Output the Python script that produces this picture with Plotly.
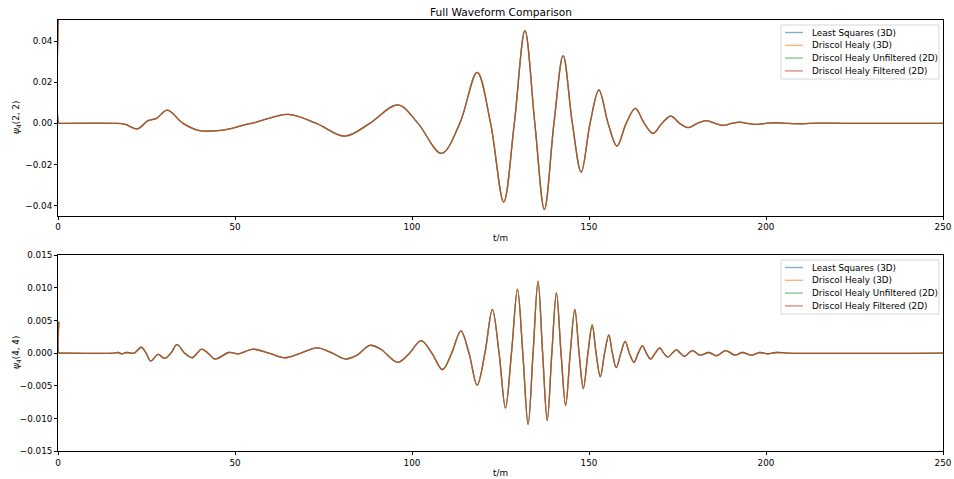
import plotly.graph_objects as go

# ---- data: psi4 (2,2) mode ----
t_22 = [0.25, 0.25, 0.6, 16, 19, 22.4, 25.4, 27.8, 30.9, 35.3, 40.0, 46.6, 53.2, 55.5,
        65.0, 73.0, 81.0, 88.1, 96.0, 101.7, 108.3, 113.5, 118.4, 122.2, 125.9,
        128.9, 131.9, 134.7, 137.4, 140.1, 142.7, 145.3, 147.8, 150.3, 152.8,
        155.4, 157.9, 160.5, 163.1, 165.6, 168.1, 170.6, 173.1, 175.6, 178.0,
        180.6, 183.2, 185.6, 187.9, 190.3, 192.6, 194.7, 196.8, 199.9, 202.9,
        206, 210, 215, 222, 250]
psi_22 = [0.06, 0.0, 0.0, 0.0, -0.0005, -0.0027, 0.0013, 0.0024, 0.0064, 0.0,
          -0.0035, -0.0033, -0.0005, 0.0003, 0.0044, 0.0, -0.0062, 0.0, 0.0090,
          0.0, -0.0146, 0.0, 0.0248, 0.0, -0.0382, 0.0, 0.0450, 0.0, -0.0418,
          0.0, 0.0329, 0.0, -0.0237, 0.0, 0.0162, 0.0, -0.0110, 0.0, 0.0073,
          0.0, -0.0049, 0.0, 0.0035, 0.0, -0.0021, 0.0, 0.0013, 0.0, -0.0010,
          0.0, 0.0006, 0.0, -0.0005, 0.0, 0.0003, 0.0, -0.0002, 0.0001, 0.0, 0.0]

# ---- data: psi4 (4,4) mode ----
t_44 = [0.25, 0.25, 0.6, 16, 17, 18, 19.5, 21.5, 23.5, 24.9, 26.2, 28.3, 30.1, 31.9,
        33.6, 35.8, 37.9, 39.3, 40.6, 42.4, 44.3, 48.3, 51.0, 55.1, 59.6, 64.2,
        68.6, 73.2, 77.5, 81.2, 84.5, 88.1, 91.2, 96.0, 99.3, 102.6, 105.6,
        108.6, 111.2, 113.8, 116.1, 118.4, 120.6, 122.7, 124.6, 126.4, 128.1,
        129.8, 131.3, 132.8, 134.2, 135.6, 136.9, 138.2, 139.5, 140.8, 142.1,
        143.4, 144.7, 146.0, 147.2, 148.4, 149.7, 150.9, 152.0, 153.2, 154.4,
        155.6, 156.6, 157.7, 159.0, 160.2, 161.4, 162.7, 163.9, 165.1, 166.2,
        167.4, 168.7, 170.0, 171.1, 172.3, 173.5, 174.7, 175.8, 177.0, 178.1,
        179.2, 181.3, 183.9, 186.0, 188.6, 191.2, 193.3, 195.9, 198.2, 200.5,
        202.9, 206, 250]
psi_44 = [0.0048, 0.0, 0.0, 0.0, 0.0001, -0.0001, 0.0001, 0.0, 0.0009, 0.0,
          -0.0012, -0.0002, -0.0008, 0.0, 0.0013, 0.0, -0.0007, 0.0, 0.0006,
          0.0, -0.0009, 0.0001, -0.0001, 0.0006, 0.0, -0.0007, 0.0, 0.0008,
          0.0, -0.0009, -0.0003, 0.0012, 0.0006, -0.0014, 0.0, 0.0019, 0.0,
          -0.0025, 0.0, 0.0034, 0.0, -0.0049, 0.0, 0.0067, 0.0, -0.0084, 0.0,
          0.0098, 0.0, -0.0109, 0.0, 0.0110, 0.0, -0.0103, 0.0, 0.0092, 0.0,
          -0.0080, 0.0, 0.0067, 0.0, -0.0054, 0.0, 0.0043, 0.0, -0.0036, 0.0,
          0.0028, 0.0, -0.0022, 0.0, 0.0018, 0.0, -0.0014, 0.0, 0.0011, 0.0,
          -0.0009, 0.0, 0.0008, 0.0, -0.0006, 0.0, 0.0005, 0.0, -0.0005, 0.0,
          0.0004, -0.0003, 0.0001, -0.0004, 0.0004, -0.0003, 0.0001, -0.0003,
          0.0001, -0.0001, 0.0001, 0.0, 0.0]

methods = ["Least Squares (3D)", "Driscol Healy (3D)",
           "Driscol Healy Unfiltered (2D)", "Driscol Healy Filtered (2D)"]
colors = ["rgba(31,119,180,0.6)", "rgba(255,127,14,0.6)",
          "rgba(44,160,44,0.6)", "rgba(214,39,40,0.6)"]

x_ticks = [0, 50, 100, 150, 200, 250]
y_ticks_22 = [-0.04, -0.02, 0.0, 0.02, 0.04]
y_ticks_44 = [-0.015, -0.010, -0.005, 0.0, 0.005, 0.010, 0.015]

W, H = 954, 479
FONT = "DejaVu Sans"


def fx(px):
    return px / W


def fy(py):
    return 1 - py / H


fig = go.Figure()

for xa, ya, t, v in [("x", "y", t_22, psi_22), ("x2", "y2", t_44, psi_44)]:
    for name, c in zip(methods, colors):
        fig.add_trace(go.Scatter(
            x=t, y=v, mode="lines", name=name, xaxis=xa, yaxis=ya,
            line=dict(color=c, width=1.3, shape="spline", smoothing=1.0),
            showlegend=False, hoverinfo="skip"))

axis_common = dict(showgrid=False, zeroline=False, showline=True,
                   linecolor="black", linewidth=0.8, mirror=True,
                   ticks="outside", ticklen=3, tickwidth=0.8,
                   tickcolor="black", automargin=False,
                   tickfont=dict(family=FONT, size=8.8, color="black"))

dom_x = [fx(58), fx(943)]
fig.update_layout(
    template="none",
    width=W, height=H, margin=dict(l=0, r=0, t=0, b=0, pad=0),
    paper_bgcolor="white", plot_bgcolor="white",
    xaxis=dict(domain=dom_x, range=[0, 250], tickvals=x_ticks,
               anchor="y", **axis_common),
    yaxis=dict(domain=[fy(216), fy(20)], range=[-0.0450, 0.0502],
               tickvals=y_ticks_22, tickformat=".2f", anchor="x",
               **axis_common),
    xaxis2=dict(domain=dom_x, range=[0, 250], tickvals=x_ticks,
                anchor="y2", **axis_common),
    yaxis2=dict(domain=[fy(451.3), fy(255)], range=[-0.015, 0.015],
                tickvals=y_ticks_44, tickformat=".3f", anchor="x2",
                **axis_common),
)

ann = []
shapes = []
txt = dict(family=FONT, size=8.8, color="black")

ann.append(dict(text="Full Waveform Comparison", x=fx(500.5), y=fy(11.5),
                xref="paper", yref="paper", showarrow=False,
                font=dict(family=FONT, size=10.6, color="black"),
                xanchor="center", yanchor="middle"))

for off, ylab in [(0, "<i>ψ</i><sub>4</sub>(2, 2)"),
                  (235, "<i>ψ</i><sub>4</sub>(4, 4)")]:
    ann.append(dict(text="t/m", x=fx(500.5), y=fy(237.5 + off),
                    xref="paper", yref="paper", showarrow=False, font=txt,
                    xanchor="center", yanchor="middle"))
    ann.append(dict(text=ylab, x=fx(16), y=fy(118 + off), textangle=-90,
                    xref="paper", yref="paper", showarrow=False, font=txt,
                    xanchor="center", yanchor="middle"))
    # legend frame
    shapes.append(dict(type="rect", xref="paper", yref="paper",
                       x0=fx(781), x1=fx(939), y0=fy(25 + off), y1=fy(79 + off),
                       line=dict(color="#cccccc", width=0.8),
                       fillcolor="rgba(255,255,255,0.8)", layer="above"))
    for i, (name, c) in enumerate(zip(methods, colors)):
        yy = 32.5 + 12.8 * i + off
        shapes.append(dict(type="line", xref="paper", yref="paper",
                           x0=fx(785), x1=fx(803), y0=fy(yy), y1=fy(yy),
                           line=dict(color=c, width=1.3), layer="above"))
        ann.append(dict(text=name, x=fx(810), y=fy(yy), xref="paper",
                        yref="paper", showarrow=False, font=txt,
                        xanchor="left", yanchor="middle"))

fig.update_layout(annotations=ann, shapes=shapes)

fig.write_html("out.html")
